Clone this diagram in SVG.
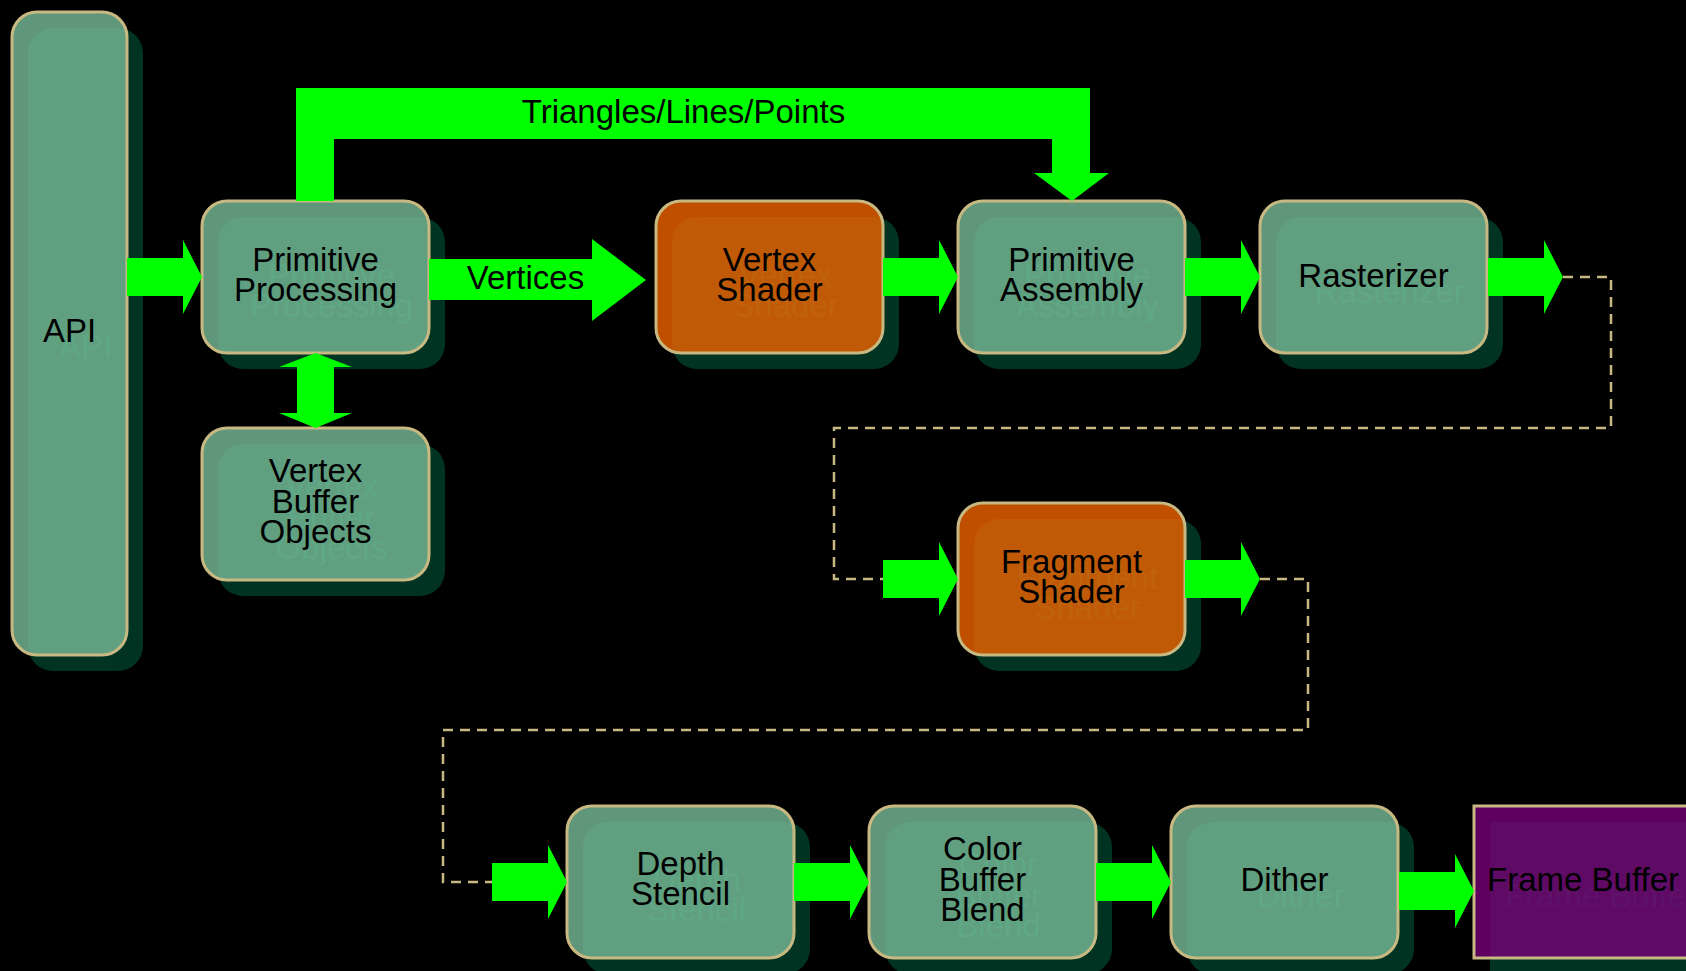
<svg xmlns="http://www.w3.org/2000/svg" xmlns:xlink="http://www.w3.org/1999/xlink" width="1686" height="971" viewBox="0 0 1686 971">
  <style>
    .bg { fill: #000000; }
    .shadow { fill: #003322; }
    .shadow-text { fill: #00573b; }
    .box { stroke: #c8b882; stroke-width: 3; fill-opacity: 0.8; }
    .green { fill: #78bb98; }
    .orange { fill: #f06400; }
    .purple { fill: #770077; }
    .label { font-family: "Liberation Sans", Arial, sans-serif; font-size: 33px; text-anchor: middle; }
    .ink { fill: #000000; }
    .flow { fill: #00ff00; }
    .dash { fill: none; stroke: #c8b882; stroke-width: 2.5; stroke-dasharray: 10 7; }
  </style>
  <defs>
    <!-- standard block arrow: shaft 56 long, head 19 long, tip at x=75 -->
    <polygon id="arrow" points="0,-19 56,-19 56,-37 75,0 56,37 56,19 0,19"/>
  </defs>

  <rect class="bg" x="0" y="0" width="1686" height="971"/>

  <!-- API -->
  <g id="node-api">
    <rect class="shadow" x="28" y="28" width="115" height="643" rx="25"/>
    <text class="label shadow-text" x="85.5" y="358">API</text>
    <rect class="box green" x="12" y="12" width="115" height="643" rx="25"/>
    <text class="label ink" x="69.5" y="342">API</text>
  </g>

  <!-- Primitive Processing -->
  <g id="node-primitive-processing">
    <rect class="shadow" x="218" y="217" width="227" height="152" rx="25"/>
    <text class="label shadow-text" x="331.5" y="287">Primitive</text>
    <text class="label shadow-text" x="331.5" y="317">Processing</text>
    <rect class="box green" x="202" y="201" width="227" height="152" rx="25"/>
    <text class="label ink" x="315.5" y="271">Primitive</text>
    <text class="label ink" x="315.5" y="301">Processing</text>
  </g>

  <!-- Vertex Buffer Objects -->
  <g id="node-vbo">
    <rect class="shadow" x="218" y="444" width="227" height="152" rx="25"/>
    <text class="label shadow-text" x="331.5" y="498">Vertex</text>
    <text class="label shadow-text" x="331.5" y="529">Buffer</text>
    <text class="label shadow-text" x="331.5" y="559">Objects</text>
    <rect class="box green" x="202" y="428" width="227" height="152" rx="25"/>
    <text class="label ink" x="315.5" y="482">Vertex</text>
    <text class="label ink" x="315.5" y="513">Buffer</text>
    <text class="label ink" x="315.5" y="543">Objects</text>
  </g>

  <!-- Vertex Shader -->
  <g id="node-vertex-shader">
    <rect class="shadow" x="672" y="217" width="227" height="152" rx="25"/>
    <text class="label shadow-text" x="785.5" y="287">Vertex</text>
    <text class="label shadow-text" x="785.5" y="317">Shader</text>
    <rect class="box orange" x="656" y="201" width="227" height="152" rx="25"/>
    <text class="label ink" x="769.5" y="271">Vertex</text>
    <text class="label ink" x="769.5" y="301">Shader</text>
  </g>

  <!-- Primitive Assembly -->
  <g id="node-primitive-assembly">
    <rect class="shadow" x="974" y="217" width="227" height="152" rx="25"/>
    <text class="label shadow-text" x="1087.5" y="287">Primitive</text>
    <text class="label shadow-text" x="1087.5" y="317">Assembly</text>
    <rect class="box green" x="958" y="201" width="227" height="152" rx="25"/>
    <text class="label ink" x="1071.5" y="271">Primitive</text>
    <text class="label ink" x="1071.5" y="301">Assembly</text>
  </g>

  <!-- Rasterizer -->
  <g id="node-rasterizer">
    <rect class="shadow" x="1276" y="217" width="227" height="152" rx="25"/>
    <text class="label shadow-text" x="1389.5" y="303">Rasterizer</text>
    <rect class="box green" x="1260" y="201" width="227" height="152" rx="25"/>
    <text class="label ink" x="1373.5" y="287">Rasterizer</text>
  </g>

  <!-- Fragment Shader -->
  <g id="node-fragment-shader">
    <rect class="shadow" x="974" y="519" width="227" height="152" rx="25"/>
    <text class="label shadow-text" x="1087.5" y="589">Fragment</text>
    <text class="label shadow-text" x="1087.5" y="619">Shader</text>
    <rect class="box orange" x="958" y="503" width="227" height="152" rx="25"/>
    <text class="label ink" x="1071.5" y="573">Fragment</text>
    <text class="label ink" x="1071.5" y="603">Shader</text>
  </g>

  <!-- Depth Stencil -->
  <g id="node-depth-stencil">
    <rect class="shadow" x="583" y="822" width="227" height="152" rx="25"/>
    <text class="label shadow-text" x="696.5" y="891">Depth</text>
    <text class="label shadow-text" x="696.5" y="921">Stencil</text>
    <rect class="box green" x="567" y="806" width="227" height="152" rx="25"/>
    <text class="label ink" x="680.5" y="875">Depth</text>
    <text class="label ink" x="680.5" y="905">Stencil</text>
  </g>

  <!-- Color Buffer Blend -->
  <g id="node-color-buffer-blend">
    <rect class="shadow" x="885" y="822" width="227" height="152" rx="25"/>
    <text class="label shadow-text" x="998.5" y="876">Color</text>
    <text class="label shadow-text" x="998.5" y="907">Buffer</text>
    <text class="label shadow-text" x="998.5" y="937">Blend</text>
    <rect class="box green" x="869" y="806" width="227" height="152" rx="25"/>
    <text class="label ink" x="982.5" y="860">Color</text>
    <text class="label ink" x="982.5" y="891">Buffer</text>
    <text class="label ink" x="982.5" y="921">Blend</text>
  </g>

  <!-- Dither -->
  <g id="node-dither">
    <rect class="shadow" x="1187" y="822" width="227" height="152" rx="25"/>
    <text class="label shadow-text" x="1300.5" y="907">Dither</text>
    <rect class="box green" x="1171" y="806" width="227" height="152" rx="25"/>
    <text class="label ink" x="1284.5" y="891">Dither</text>
  </g>

  <!-- Frame Buffer -->
  <g id="node-frame-buffer">
    <rect class="shadow" x="1490" y="822" width="227" height="152"/>
    <text class="label shadow-text" x="1601" y="907">Frame Buffer</text>
    <rect class="box purple" x="1474" y="806" width="227" height="152"/>
    <text class="label ink" x="1583" y="891">Frame Buffer</text>
  </g>

  <!-- connectors -->
  <g id="connectors">
    <!-- Triangles/Lines/Points bypass -->
    <path class="flow" d="M296,201 V88 H1090 V173 H1109 L1072,201 L1034,173 H1052 V139 H334 V201 Z"/>
    <text class="label ink" x="683.5" y="123">Triangles/Lines/Points</text>

    <!-- Vertices -->
    <polygon class="flow" points="429,259 592,259 592,239 646,280 592,321 592,300 429,300"/>
    <text class="label ink" x="525.5" y="289">Vertices</text>

    <!-- Primitive Processing <-> Vertex Buffer Objects -->
    <polygon class="flow" points="315.5,353 352,367 334,367 334,413 352,413 315.5,428 279,413 297,413 297,367 279,367"/>

    <use xlink:href="#arrow" class="flow" x="127" y="277"/>
    <use xlink:href="#arrow" class="flow" x="883" y="277"/>
    <use xlink:href="#arrow" class="flow" x="1185" y="277"/>
    <use xlink:href="#arrow" class="flow" x="1488" y="277"/>
    <use xlink:href="#arrow" class="flow" x="883" y="579"/>
    <use xlink:href="#arrow" class="flow" x="1185" y="579"/>
    <use xlink:href="#arrow" class="flow" x="492" y="882"/>
    <use xlink:href="#arrow" class="flow" x="794" y="882"/>
    <use xlink:href="#arrow" class="flow" x="1096" y="882"/>
    <use xlink:href="#arrow" class="flow" x="1399" y="891"/>

    <path class="dash" d="M1563,277 H1611 V428 H834 V579 H883"/>
    <path class="dash" d="M1260,579 H1308 V730 H443 V882 H492"/>
  </g>
</svg>
